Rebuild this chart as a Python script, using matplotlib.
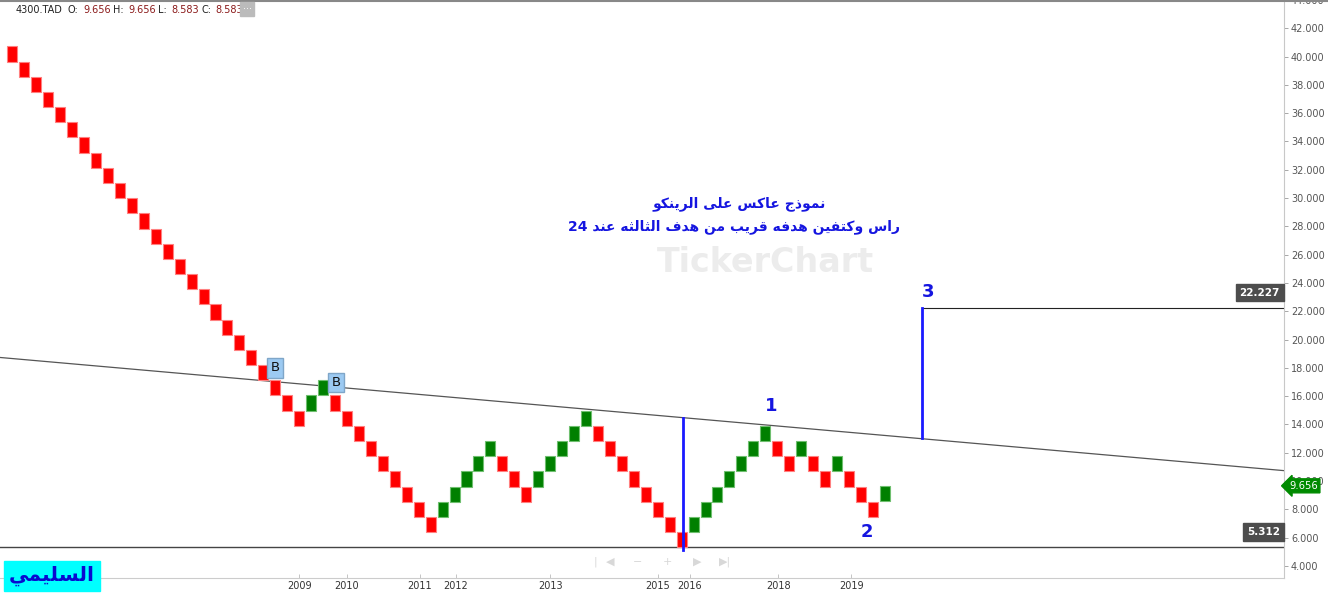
import re
import numpy as np
import matplotlib.pyplot as plt
from matplotlib.lines import Line2D

# ==========================================================================
# Data (renko bricks, 4300.TAD)
# ==========================================================================
brick_size = 1.073
first_open = 40.721
brick_close = [39.648, 38.575, 37.502, 36.429, 35.356, 34.283, 33.210, 32.137,
               31.064, 29.991, 28.918, 27.845, 26.772, 25.699, 24.626, 23.553,
               22.480, 21.407, 20.334, 19.261, 18.188, 17.115, 16.042, 14.969,
               13.896,
               16.042, 17.115,
               14.969, 13.896, 12.823, 11.750, 10.677, 9.604, 8.531, 7.458, 6.385,
               8.531, 9.604, 10.677, 11.750, 12.823,
               10.677, 9.604, 8.531,
               10.677, 11.750, 12.823, 13.896, 14.969,
               12.823, 11.750, 10.677, 9.604, 8.531, 7.458, 6.385, 5.312,
               7.458, 8.531, 9.604, 10.677, 11.750, 12.823, 13.896,
               11.750, 10.677,
               12.823,
               10.677, 9.604,
               11.750,
               9.604, 8.531, 7.458,
               9.656]

year_pos = [24, 28, 34.1, 37.1, 45, 54, 56.7, 64.1, 70.2]
year_lbl = ['2009', '2010', '2011', '2012', '2013', '2015', '2016', '2018', '2019']

trend_x = [-1.03, 106.4]
trend_y = [18.73, 10.73]
low_level = 5.312
target_level = 22.227
last_price = 9.656

buy_x = [22.0, 27.1]
buy_y = [18.0, 16.97]

# ==========================================================================
# Arabic shaping (matplotlib has no bidi/shaping) -> presentation forms
# ==========================================================================
FORMS = {  # isolated, final, initial, medial
    'ا': (0xFE8D, 0xFE8E, None, None),
    'ب': (0xFE8F, 0xFE90, 0xFE91, 0xFE92),
    'ت': (0xFE95, 0xFE96, 0xFE97, 0xFE98),
    'ث': (0xFE99, 0xFE9A, 0xFE9B, 0xFE9C),
    'ج': (0xFE9D, 0xFE9E, 0xFE9F, 0xFEA0),
    'د': (0xFEA9, 0xFEAA, None, None),
    'ذ': (0xFEAB, 0xFEAC, None, None),
    'ر': (0xFEAD, 0xFEAE, None, None),
    'س': (0xFEB1, 0xFEB2, 0xFEB3, 0xFEB4),
    'ع': (0xFEC9, 0xFECA, 0xFECB, 0xFECC),
    'ف': (0xFED1, 0xFED2, 0xFED3, 0xFED4),
    'ق': (0xFED5, 0xFED6, 0xFED7, 0xFED8),
    'ك': (0xFED9, 0xFEDA, 0xFEDB, 0xFEDC),
    'ل': (0xFEDD, 0xFEDE, 0xFEDF, 0xFEE0),
    'م': (0xFEE1, 0xFEE2, 0xFEE3, 0xFEE4),
    'ن': (0xFEE5, 0xFEE6, 0xFEE7, 0xFEE8),
    'ه': (0xFEE9, 0xFEEA, 0xFEEB, 0xFEEC),
    'و': (0xFEED, 0xFEEE, None, None),
    'ى': (0xFEEF, 0xFEF0, None, None),
    'ي': (0xFEF1, 0xFEF2, 0xFEF3, 0xFEF4),
}


def arabic(s):
    """ Shape the letters and put them in visual (right to left) order. """
    out = []
    for i, ch in enumerate(s):
        if ch not in FORMS:
            out.append(ch)
            continue
        prev = s[i - 1] if i > 0 else ''
        nxt = s[i + 1] if i + 1 < len(s) else ''
        j_prev = prev in FORMS and FORMS[prev][2] is not None
        j_next = FORMS[ch][2] is not None and nxt in FORMS
        f = FORMS[ch]
        if j_prev and j_next:
            code = f[3]
        elif j_prev:
            code = f[1]
        elif j_next:
            code = f[2]
        else:
            code = f[0]
        out.append(chr(code))
    tokens = re.findall(r'\d+|\D', ''.join(out))
    return ''.join(reversed(tokens))


# ==========================================================================
# Figure
# ==========================================================================
W, H = 1328, 597
fig = plt.figure(figsize=(W / 100, H / 100), dpi=100)
ax = fig.add_axes([0, 1 - 578 / H, 1284 / W, 578 / H])


def fx(px):
    return px / W


def fy(py):
    return 1 - py / H


# bricks
opens = [first_open] + brick_close[:-1]
for i, (o, c) in enumerate(zip(opens, brick_close)):
    up = c > o
    if up:
        o = c - brick_size
    else:
        o = c + brick_size
    ax.bar(i, abs(c - o), bottom=min(o, c), width=0.84,
           color='#008000' if up else '#ff0000',
           edgecolor='#6fbf6f' if up else '#ff8080', linewidth=0.8, zorder=3)

# lines
ax.plot(trend_x, trend_y, c='#555555', lw=0.9, zorder=2)
ax.axhline(low_level, c='#444444', lw=1.0, zorder=2)
ax.plot([76.1, 106.4], [target_level, target_level], c='#222222', lw=0.8, zorder=2)
ax.plot([56.1, 56.1], [5.15, 14.45], c='#1a1aff', lw=2, zorder=4)
ax.plot([76.1, 76.1], [13.02, target_level], c='#1a1aff', lw=2, zorder=4)

# buy markers
for bx, by in zip(buy_x, buy_y):
    ax.text(bx, by, 'B', ha='center', va='center', fontsize=9.5, color='#111111', zorder=5,
            bbox=dict(boxstyle='square,pad=0.25', fc='#9ccaf2', ec='#7fa6c8', lw=1))

# pattern labels
for s, lx, ly in [('1', 63.5, 15.27), ('2', 71.5, 6.39), ('3', 76.6, 23.38)]:
    ax.text(lx, ly, s, ha='center', va='center', fontsize=13, fontweight='bold',
            color='#1515e0', zorder=5)

# annotation
ax.text(60.8, 29.59, arabic('نموذج عاكس على الرينكو'), ha='center', va='center',
        fontsize=10, fontweight='bold', color='#1515e0', zorder=5)
ax.text(60.4, 27.97, arabic('راس وكتفين هدفه قريب من هدف الثالثه عند 24'),
        ha='center', va='center', fontsize=10, fontweight='bold', color='#1515e0',
        zorder=5)

# watermark
fig.text(fx(765), fy(262), 'TickerChart', ha='center', va='center', fontsize=24,
         fontweight='bold', color='#ececec', zorder=0)

# price boxes on the right
for v in [target_level, low_level]:
    ax.text(0.9968, v + 1.08, '%.3f' % v, transform=ax.get_yaxis_transform(),
            ha='right', va='center', fontsize=7.5, fontweight='bold', color='white',
            bbox=dict(boxstyle='square,pad=0.35', fc='#4d4d4d', ec='#4d4d4d'), zorder=6)
ax.text(1.004, last_price, '%.3f' % last_price, transform=ax.get_yaxis_transform(),
        ha='left', va='center', fontsize=7.2, color='white', clip_on=False,
        bbox=dict(boxstyle='larrow,pad=0.2', fc='#008a00', ec='#008a00'), zorder=6)

# axes
ax.set_xlim(-1.03, 106.4)
ax.set_ylim(3.14, 43.9)
ax.yaxis.tick_right()
ax.set_yticks(np.arange(4, 44.1, 2))
ax.yaxis.set_major_formatter(plt.FormatStrFormatter('%.3f'))
ax.tick_params(axis='y', length=3, width=0.6, color='#999999', labelsize=7,
               labelcolor='#555555', pad=2)
ax.set_xticks(year_pos)
ax.set_xticklabels(year_lbl)
ax.tick_params(axis='x', length=3, width=0.6, color='#bbbbbb', labelsize=7,
               labelcolor='#333333', pad=2, direction='in')
for side in ['left', 'top']:
    ax.spines[side].set_visible(False)
ax.spines['right'].set_color('#c8c8c8')
ax.spines['bottom'].set_color('#cccccc')

# header
fig.add_artist(Line2D([0, 1], [fy(1), fy(1)], color='#888888', lw=1.5))
hdr = [(16, '4300.TAD', '#222222'), (68, 'O:', '#222222'), (83, '9.656', '#8b1a1a'),
       (113, 'H:', '#222222'), (128, '9.656', '#8b1a1a'), (158, 'L:', '#222222'),
       (171, '8.583', '#8b1a1a'), (201, 'C:', '#222222'), (215, '8.583', '#8b1a1a')]
for px, s, col in hdr:
    fig.text(fx(px), fy(10), s, ha='left', va='center', fontsize=7, color=col)
fig.text(fx(247), fy(9), '···', ha='center', va='center', fontsize=7, color='white',
         bbox=dict(boxstyle='square,pad=0.25', fc='#bbbbbb', ec='#bbbbbb'))

# navigation icons
for px, s in [(595, '|'), (610, '◀'), (638, '−'), (667, '+'), (697, '▶'), (725, '▶|')]:
    fig.text(fx(px), fy(562), s, ha='center', va='center', fontsize=8, color='#d8d8d8')

# signature
fig.text(fx(52), fy(576), arabic('السليمي'), ha='center', va='center', fontsize=14.5,
         fontweight='bold', color='#0a0ad0',
         bbox=dict(boxstyle='square,pad=0.25', fc='#00ffff', ec='#00ffff'))

plt.savefig('out.png', dpi=100)
